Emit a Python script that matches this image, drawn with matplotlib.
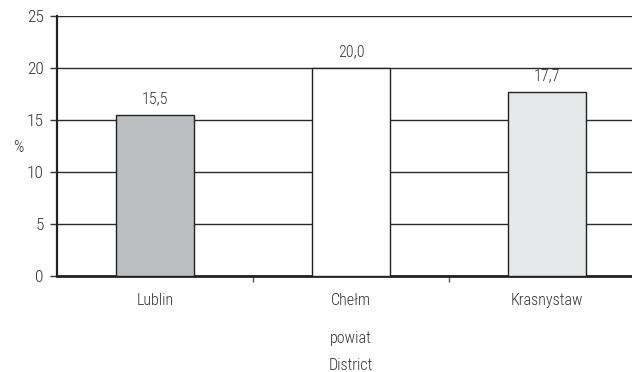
import matplotlib
matplotlib.use("Agg")
import matplotlib.pyplot as plt

districts = ["Lublin", "Chełm", "Krasnystaw"]
values = [15.5, 20.0, 17.7]
value_labels = ["15,5", "20,0", "17,7"]
bar_colors = ["#bdbec0", "#ffffff", "#e6e7e8"]
y_ticks = [0, 5, 10, 15, 20, 25]

plt.rcParams["font.family"] = ["Roboto Condensed", "DejaVu Sans"]
plt.rcParams["font.weight"] = 300

text_color = "#333333"
FS = 11.5
W, H = 632, 372
fig = plt.figure(figsize=(W / 100, H / 100), dpi=100)
ax = fig.add_axes([57 / W, 1 - 276 / H, (632 - 57) / W, (276 - 16) / H])

x = list(range(len(districts)))
ax.set_axisbelow(True)
ax.yaxis.grid(True, color="#2a2a2a", linewidth=1.0)
ax.bar(x, values, width=0.4, color=bar_colors, edgecolor="#222222", linewidth=1.0, zorder=3)

for xi, v, lab in zip(x, values, value_labels):
    ax.annotate(lab, (xi, v), xytext=(0, 8.5), textcoords="offset points",
                ha="center", va="baseline", fontsize=FS, color=text_color)

ax.set_xlim(-0.5, (632 - 57) / 196 - 0.5)
ax.set_ylim(0, 25)
ax.set_yticks(y_ticks)
ax.set_yticklabels([str(t) for t in y_ticks], fontsize=12.5, color=text_color)
ax.set_xticks([0.5, 1.5])
ax.set_xticklabels([])
ax.tick_params(axis="y", length=5, width=1, color="#333333", pad=4.5)
ax.tick_params(axis="x", length=4, width=1, color="#555555")

for s in ["top", "right"]:
    ax.spines[s].set_visible(False)
ax.spines["left"].set_linewidth(1.6)
ax.spines["left"].set_color("#222222")
ax.spines["bottom"].set_linewidth(2.0)
ax.spines["bottom"].set_color("#222222")

for xi, name in zip(x, districts):
    ax.annotate(name, (xi, 0), xytext=(0, -12), textcoords="offset points",
                ha="center", va="top", fontsize=FS, color=text_color,
                annotation_clip=False)

fig.text(351 / W, 1 - 343 / H, "powiat", ha="center", va="baseline", fontsize=FS, color=text_color)
fig.text(351 / W, 1 - 370 / H, "District", ha="center", va="baseline", fontsize=FS, color=text_color)
fig.text(18 / W, 1 - 147 / H, "%", ha="center", va="center", fontsize=FS, color=text_color)

fig.savefig("out.png", dpi=100)
